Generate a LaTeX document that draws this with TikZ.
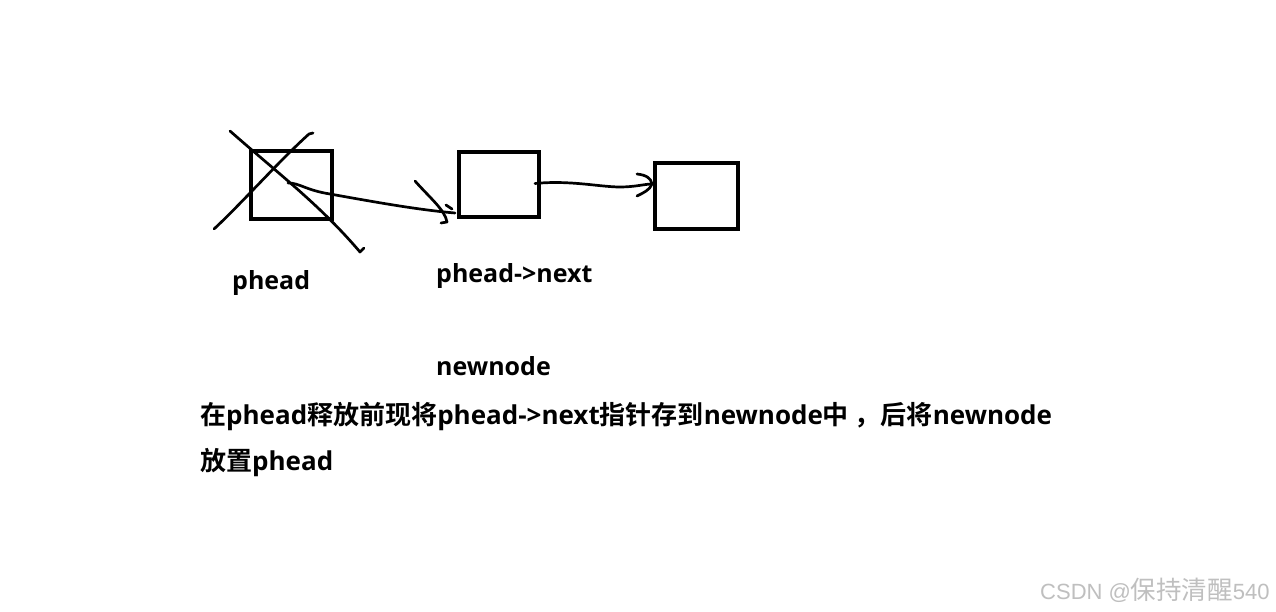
\documentclass[tikz,border=0pt]{standalone}
\usepackage{fontspec}
\usetikzlibrary{calc}
\newfontfamily\cjk{Noto Sans CJK SC}[BoldFont={Noto Sans CJK SC Bold}]
\newfontfamily\latf{Open Sans}
\newfontfamily\wmlat{Liberation Sans}
\newcommand\lt[1]{{\latf\bfseries #1}}
\newcommand\wl[1]{{\wmlat\fontsize{22}{26}\selectfont #1}}
\begin{document}
\begin{tikzpicture}[x=1pt,y=-1pt,
  box/.style={draw, line width=4pt, inner sep=0pt},
  stroke/.style={line width=2.7pt, line cap=round, line join=round},
  lbl/.style={font=\cjk\bfseries\fontsize{25}{30}\selectfont, inner sep=0pt, anchor=base west},
  para/.style={font=\cjk\bfseries\fontsize{26}{30}\selectfont, inner sep=0pt, anchor=base west},
  wmark/.style={font=\cjk\fontsize{25.5}{30}\selectfont, text=black!25, inner sep=0pt, anchor=base west}]
\fill[white] (0,0) rectangle (1276,612);
\useasboundingbox (0,0) rectangle (1276,612);
% boxes
\node[box, minimum width=81pt, minimum height=68pt] (b1) at (291.5,185) {};
\node[box, minimum width=80pt, minimum height=65pt] (b2) at (499,184.5) {};
\node[box, minimum width=83pt, minimum height=66pt] (b3) at (696.5,196) {};
% cross over the first box
\coordinate (xa1) at (230,131);
\coordinate (xa2) at (360,252);
\coordinate (xb1) at (313,133);
\coordinate (xb2) at (214,229);
\draw[stroke] (xa1) .. controls (280,175) and (320,205) .. (xa2) -- ++(4,-4);
\draw[stroke] (xb1) -- ++(-4,1) .. controls (280,160) and (240,205) .. (xb2);
% arrow from phead to phead->next
\coordinate (a1s) at (288,183);
\coordinate (a1e) at ($(b2.south west)+(-2,-6)$);
\draw[stroke] (a1s) .. controls (300,183) and (305,190) .. (330,194)
  .. controls (380,203) and (420,210) .. (a1e);
\coordinate (h1a) at (415,181);
\coordinate (h1b) at (447,222);
\draw[stroke] (h1a) .. controls (430,198) and (445,210) .. (h1b) -- ++(-6,1);
\draw[stroke] (446,205) -- (452,209);
% arrow from phead->next to the third box
\coordinate (a2s) at ($(b2.east)+(-6,-1)$);
\coordinate (a2e) at ($(b3.west)+(-1,-12)$);
\draw[stroke] (a2s) .. controls (570,180) and (600,187) .. (620,187)
  .. controls (635,187) and (645,184) .. (a2e);
\draw[stroke] (637,174) .. controls (646,175) and (651,178) .. (a2e)
  .. controls (650,190) and (643,193) .. (637,196);
% labels
\node[lbl] (t1) at (232,289) {\lt{phead}};
\node[lbl] (t2) at (436,282) {\lt{phead->next}};
\node[lbl] (t3) at (436,375) {\lt{newnode}};
\node[para] (t4) at (200,424) {在\lt{phead}释放前现将\lt{phead->next}指针存到\lt{newnode}中 ，后将\lt{newnode}};
\node[para] (t5) at (200,470) {放置\lt{phead}};
\node[wmark] (wm) at (1040,599) {\wl{CSDN @}保持清醒\wl{540}};
\end{tikzpicture}
\end{document}
